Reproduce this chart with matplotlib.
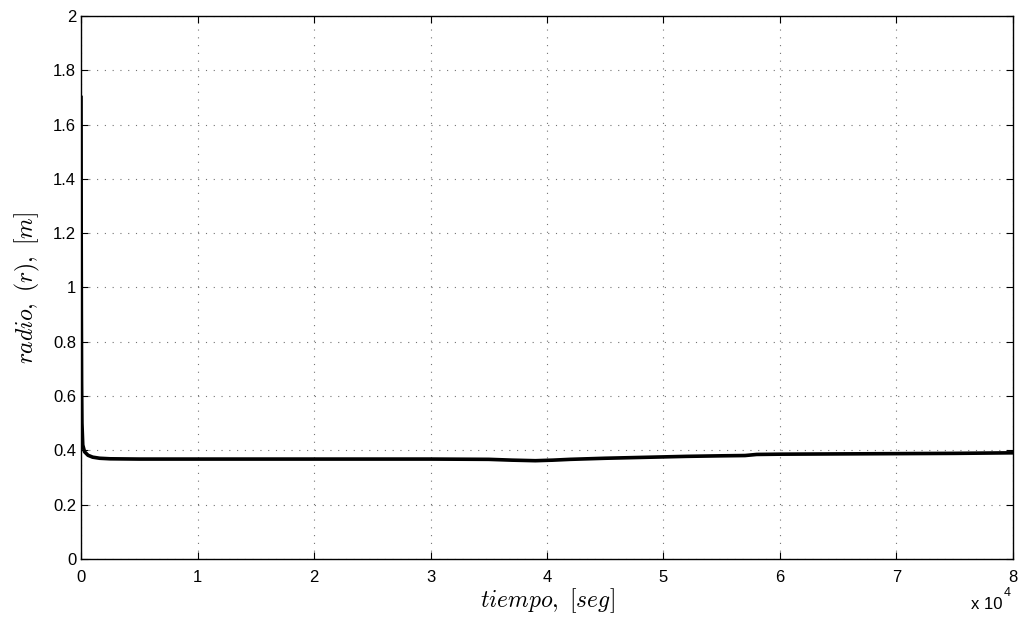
import numpy as np
import matplotlib.pyplot as plt
from matplotlib.ticker import FuncFormatter

plt.rcParams['font.family'] = ['Liberation Sans', 'DejaVu Sans']
plt.rcParams['mathtext.fontset'] = 'cm'

# time [s] and radius [m]
tiempo = [0, 15, 30, 50, 80, 150, 300, 600, 1000, 1600, 2500, 5000, 10000,
          20000, 30000, 35000, 37000, 39000, 40500, 42000, 45000, 48000,
          52000, 55000, 57000, 58000, 60000, 65000, 70000, 75000, 80000]
radio = [1.70, 1.20, 0.90, 0.65, 0.50, 0.42, 0.395, 0.382, 0.375, 0.371, 0.369,
         0.368, 0.368, 0.368, 0.368, 0.367, 0.364, 0.362, 0.364, 0.367, 0.371,
         0.374, 0.378, 0.380, 0.381, 0.385, 0.386, 0.387, 0.388, 0.389, 0.391]

xticks = [0, 10000, 20000, 30000, 40000, 50000, 60000, 70000, 80000]
yticks = [0, 0.2, 0.4, 0.6, 0.8, 1, 1.2, 1.4, 1.6, 1.8, 2]

fig = plt.figure(figsize=(10.23, 6.24), dpi=100)
ax = fig.add_axes([0.0792, 0.1042, 0.9110, 0.8702])

ax.plot(tiempo, radio, color='black', lw=2.6)

ax.set_xlim(0, 80000)
ax.set_ylim(0, 2)
ax.set_xticks(xticks)
ax.set_yticks(yticks)
ax.xaxis.set_major_formatter(FuncFormatter(lambda v, p: '%g' % (v / 1e4)))
ax.yaxis.set_major_formatter(FuncFormatter(lambda v, p: '%g' % v))
ax.tick_params(direction='in', top=True, right=True, labelsize=12, length=5, width=0.8)
ax.tick_params(axis='x', pad=8)
ax.grid(True, linestyle=(0, (1, 6)), color='0.45', lw=0.8)
for s in ax.spines.values():
    s.set_linewidth(1.0)

ax.set_xlabel(r'$tiempo,\ [seg]$', fontsize=17, labelpad=1)
ax.set_ylabel(r'$radio,\ (r),\ [m]$', fontsize=17, labelpad=8)
# exponent label, MATLAB style
fig.text(0.980, 0.019, 'x 10', ha='right', va='bottom', fontsize=12)
fig.text(0.981, 0.040, '4', ha='left', va='bottom', fontsize=9)

fig.savefig('out.png', dpi=100)
